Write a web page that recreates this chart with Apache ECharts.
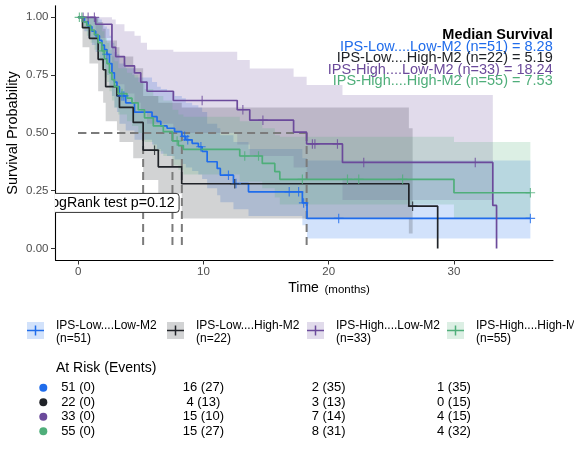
<!DOCTYPE html>
<html>
<head>
<meta charset="utf-8">
<script src="https://cdn.jsdelivr.net/npm/echarts@6/dist/echarts.min.js"></script>
<style>
html, body { margin: 0; padding: 0; background: #fff; }
#km { width: 574px; height: 455px; }
</style>
</head>
<body>
<div id="km"></div>
<script>
var groupNames = ['IPS-Low....Low-M2', 'IPS-Low....High-M2', 'IPS-High....Low-M2', 'IPS-High....High-M2'];
var groupN = [51, 22, 33, 55];
var medians = [8.28, 5.19, 18.24, 7.53];
var colors = ['#1F6CEB', '#202328', '#6B4A9B', '#4FAE7A'];
var pvalText = 'logRank test p=0.12';

var xTicks = [0, 10, 20, 30];
var yTicks = [0, 0.25, 0.5, 0.75, 1];
var yTickLabels = ['0.00', '0.25', '0.50', '0.75', '1.00'];

// step curves: start time of each step, survival on it, confidence band on it
var blueT  = [0, 0.5, 0.8, 1.1, 1.4, 1.7, 1.9, 2.1, 2.3, 2.5, 2.7, 2.9, 3.1, 3.3, 3.8, 4.5, 5.9, 6.3, 6.6, 7.1, 7.7, 8.28, 8.6, 9.1, 9.6, 9.9, 10.3, 11.1, 11.35, 12.4, 13.6, 17.9, 18.27];
var blueS  = [1, .98, .96, .94, .92, .90, .88, .86, .84, .80, .76, .72, .70, .66, .63, .59, .57, .55, .53, .52, .505, .485, .47, .455, .44, .42, .375, .346, .317, .281, .245, .197, .13];
var blueLo = [1, .94, .91, .88, .85, .82, .80, .77, .75, .70, .66, .61, .59, .54, .51, .47, .45, .43, .41, .40, .385, .365, .35, .335, .32, .30, .26, .23, .20, .17, .14, .10, .043];
var blueHi = [1, 1, 1, 1, 1, .99, .97, .96, .95, .92, .89, .85, .84, .80, .78, .74, .72, .70, .69, .68, .66, .65, .63, .62, .61, .59, .54, .52, .49, .46, .43, .39, .38];
var blueCens = [2.3, 3.5, 3.65, 8.5, 8.75, 9.8, 12.0, 12.6, 16.85, 17.6, 18.0, 20.8, 36.1];

var blackT  = [0, 0.35, 0.9, 1.6, 2.0, 2.2, 3.1, 3.3, 4.4, 5.19, 6.4, 8.27, 26.4, 28.7];
var blackS  = [1, .955, .909, .818, .773, .70, .66, .61, .545, .425, .353, .28, .183, 0];
var blackLo = [1, .87, .80, .68, .63, .55, .51, .46, .39, .296, .238, .13, .065];
var blackHi = [1, 1, 1, .98, .95, .90, .87, .83, .78, .66, .63, .61, .52];
var blackCens = [6.1, 12.5, 26.7];

var purpleT  = [0, 1.4, 2.7, 3.0, 3.7, 4.5, 5.0, 5.5, 7.6, 12.7, 13.7, 17.2, 18.24, 21.1, 33.1, 33.4];
var purpleS  = [1, .97, .87, .83, .79, .76, .72, .68, .64, .60, .555, .503, .452, .372, .186, 0];
var purpleLo = [1, .91, .76, .71, .67, .63, .59, .54, .50, .45, .40, .35, .30, .21];
var purpleHi = [1, 1, .99, .97, .94, .92, .89, .86, .851, .815, .779, .743, .707, .664];
var purpleCens = [0.4, 0.8, 1.3, 9.9, 13.15, 14.75, 18.7, 18.9, 20.7, 22.8, 31.7];

var greenT  = [0, 0.4, 0.7, 1.0, 1.3, 1.6, 1.9, 2.1, 2.3, 2.5, 2.7, 2.9, 3.2, 3.9, 4.3, 4.8, 5.3, 6.0, 6.8, 7.53, 8.0, 8.4, 12.9, 14.7, 15.7, 16.1, 30.0];
var greenS  = [1, .98, .965, .945, .925, .89, .855, .82, .80, .76, .73, .70, .67, .65, .63, .60, .565, .53, .505, .465, .445, .429, .40, .368, .332, .299, .241];
var greenLo = [1, .95, .92, .89, .86, .82, .78, .74, .72, .68, .64, .61, .58, .55, .53, .50, .46, .42, .40, .36, .34, .32, .29, .26, .22, .19, .13];
var greenHi = [1, 1, 1, 1, .99, .97, .94, .91, .89, .86, .83, .81, .78, .76, .75, .72, .69, .66, .64, .60, .58, .57, .55, .52, .49, .483, .461];
var greenCens = [0.1, 0.3, 2.0, 3.5, 7.9, 13.3, 14.4, 17.9, 21.5, 22.4, 25.9, 36.1];

// number at risk (events) table
var riskTimes = [0, 10, 20, 30];
var blueRisk = [51, 16, 2, 1],   blueEvents = [0, 27, 35, 35];
var blackRisk = [22, 4, 3, 0],   blackEvents = [0, 13, 13, 15];
var purpleRisk = [33, 15, 7, 4], purpleEvents = [0, 10, 14, 15];
var greenRisk = [55, 15, 8, 4],  greenEvents = [0, 27, 31, 32];

var groups = [
  { T: blueT, S: blueS, lo: blueLo, hi: blueHi, cens: blueCens, bandEnd: 36.1, lineEnd: 36.1, risk: blueRisk, ev: blueEvents },
  { T: blackT, S: blackS, lo: blackLo, hi: blackHi, cens: blackCens, bandEnd: 26.7, lineEnd: null, risk: blackRisk, ev: blackEvents },
  { T: purpleT, S: purpleS, lo: purpleLo, hi: purpleHi, cens: purpleCens, bandEnd: 33.1, lineEnd: null, risk: purpleRisk, ev: purpleEvents },
  { T: greenT, S: greenS, lo: greenLo, hi: greenHi, cens: greenCens, bandEnd: 36.1, lineEnd: 36.1, risk: greenRisk, ev: greenEvents }
];

var FONT = '"Liberation Sans", Arial, Helvetica, sans-serif';

function rgba(hex, a) {
  var n = parseInt(hex.slice(1), 16);
  return 'rgba(' + (n >> 16 & 255) + ',' + (n >> 8 & 255) + ',' + (n & 255) + ',' + a + ')';
}

function survAt(g, t) {
  var s = g.S[0];
  for (var i = 0; i < g.T.length; i++) { if (g.T[i] <= t) s = g.S[i]; }
  return s;
}

var series = [];

// confidence bands
groups.forEach(function (g, k) {
  series.push({
    type: 'custom', silent: true, z: 1,
    data: [[g.T[0], g.lo[0]]],
    renderItem: function (params, api) {
      var top = [], low = [];
      for (var i = 0; i < g.lo.length; i++) {
        var t1 = i + 1 < g.lo.length ? g.T[i + 1] : g.bandEnd;
        top.push(api.coord([g.T[i], g.hi[i]]), api.coord([t1, g.hi[i]]));
        low.push(api.coord([g.T[i], g.lo[i]]), api.coord([t1, g.lo[i]]));
      }
      return {
        type: 'polygon',
        shape: { points: top.concat(low.reverse()) },
        style: { fill: rgba(colors[k], 0.2) }
      };
    }
  });
});

// median lines
series.push({
  type: 'custom', silent: true, z: 2,
  data: medians.map(function (m) { return [m, 0.5]; }),
  renderItem: function (params, api) {
    var m = api.value(0);
    var o = api.coord([0, 0.5]), p = api.coord([m, 0.5]), b = api.coord([m, 0]);
    var st = { stroke: '#7b7b7b', lineWidth: 2, lineDash: [8, 5] };
    return {
      type: 'group',
      children: [
        { type: 'line', shape: { x1: o[0], y1: o[1], x2: p[0], y2: p[1] }, style: st },
        { type: 'line', shape: { x1: p[0], y1: p[1], x2: b[0], y2: b[1] }, style: st }
      ]
    };
  }
});

// survival curves and censor marks
groups.forEach(function (g, k) {
  var pts = g.T.map(function (t, i) { return [t, g.S[i]]; });
  if (g.lineEnd != null) pts.push([g.lineEnd, g.S[g.S.length - 1]]);
  series.push({
    type: 'line', step: 'end', data: pts, symbol: 'none', z: 3, silent: true,
    lineStyle: { color: colors[k], width: 1.7 }
  });
  series.push({
    type: 'scatter', z: 4, silent: true,
    symbol: 'path://M4.4,0H5.6V10H4.4ZM0,4.4H10V5.6H0Z', symbolSize: 9.5,
    itemStyle: { color: colors[k] },
    data: g.cens.map(function (t) { return [t, survAt(g, t)]; })
  });
});

// p-value label, clipped to the plot like the original
series.push({
  type: 'custom', silent: true, z: 6, clip: true,
  data: [[8.06, 0.197]],
  renderItem: function (params, api) {
    var p = api.coord([api.value(0), api.value(1)]);
    return {
      type: 'group',
      children: [
        { type: 'rect', shape: { x: p[0] - 137, y: p[1] - 9.5, width: 137, height: 19, r: 3 },
          style: { fill: '#fff', stroke: '#333', lineWidth: 1 } },
        { type: 'text', style: { text: pvalText, x: p[0] - 4.5, y: p[1], align: 'right', verticalAlign: 'middle',
          fill: '#000', font: '14.2px ' + FONT } }
      ]
    };
  }
});

var chart = echarts.init(document.getElementById('km'));
chart.setOption({
  animation: false,
  backgroundColor: '#fff',
  grid: { left: 55.5, right: 21, top: 5.75, bottom: 195, containLabel: false },
  xAxis: {
    type: 'value', min: -1.805, max: 37.905,
    axisLine: { onZero: false, lineStyle: { color: '#000', width: 1.1 } },
    axisTick: { customValues: xTicks, length: 4.5, lineStyle: { color: '#333' } },
    axisLabel: { customValues: xTicks, margin: 6, color: '#4d4d4d', fontSize: 11.5, fontFamily: FONT },
    splitLine: { show: false }
  },
  yAxis: {
    type: 'value', min: -0.05, max: 1.05,
    axisLine: { show: true, onZero: false, lineStyle: { color: '#000', width: 1.1 } },
    axisTick: { show: true, customValues: yTicks, length: 4.5, lineStyle: { color: '#333' } },
    axisLabel: { customValues: yTicks, margin: 7, color: '#4d4d4d', fontSize: 11.5, fontFamily: FONT,
      formatter: function (v) { return yTickLabels[yTicks.indexOf(v)]; } },
    splitLine: { show: false }
  },
  series: series
});

var gr = [];
// axis titles
gr.push({ type: 'text', x: 13, y: 133, rotation: Math.PI / 2,
  style: { text: 'Survival Probability', align: 'center', verticalAlign: 'middle', fill: '#000', font: '14.5px ' + FONT } });
gr.push({ type: 'text', x: 288.3, y: 288.5,
  style: { text: 'Time', align: 'left', verticalAlign: 'middle', fill: '#000', font: '14px ' + FONT } });
gr.push({ type: 'text', x: 324.5, y: 289.5,
  style: { text: '(months)', align: 'left', verticalAlign: 'middle', fill: '#000', font: '11.5px ' + FONT } });

// median survival legend
gr.push({ type: 'text', x: 552.7, y: 35, z: 10,
  style: { text: 'Median Survival', align: 'right', verticalAlign: 'middle', fill: '#000', font: 'bold 14.5px ' + FONT } });
var medY = [46.7, 58.3, 69.5, 80.5];
groups.forEach(function (g, k) {
  gr.push({ type: 'text', x: 552.7, y: medY[k], z: 10,
    style: { text: groupNames[k] + ' (n=' + groupN[k] + ') = ' + medians[k].toFixed(2),
      align: 'right', verticalAlign: 'middle', fill: colors[k], font: '14.5px ' + FONT } });
});

// bottom legend
groups.forEach(function (g, k) {
  var kx = 27 + 140 * k;
  gr.push({ type: 'rect', shape: { x: kx, y: 322, width: 17, height: 17 }, style: { fill: rgba(colors[k], 0.2) } });
  gr.push({ type: 'line', shape: { x1: kx, y1: 330.5, x2: kx + 17, y2: 330.5 }, style: { stroke: colors[k], lineWidth: 1.5 } });
  gr.push({ type: 'line', shape: { x1: kx + 8.5, y1: 325.5, x2: kx + 8.5, y2: 335.5 }, style: { stroke: colors[k], lineWidth: 1.5 } });
  gr.push({ type: 'text', x: kx + 29, y: 326, style: { text: groupNames[k], align: 'left', verticalAlign: 'middle', fill: '#000', font: '12px ' + FONT } });
  gr.push({ type: 'text', x: kx + 29, y: 339, style: { text: '(n=' + groupN[k] + ')', align: 'left', verticalAlign: 'middle', fill: '#000', font: '12px ' + FONT } });
});

// at risk table
gr.push({ type: 'text', x: 56, y: 367.7,
  style: { text: 'At Risk (Events)', align: 'left', verticalAlign: 'middle', fill: '#000', font: '14px ' + FONT } });
var rowY = [387.7, 402.2, 416.7, 431.2];
var colX = riskTimes.map(function (t) { return chart.convertToPixel({ xAxisIndex: 0 }, t); });
groups.forEach(function (g, k) {
  gr.push({ type: 'circle', shape: { cx: 43.3, cy: rowY[k], r: 4 }, style: { fill: colors[k] } });
  riskTimes.forEach(function (t, j) {
    gr.push({ type: 'text', x: colX[j], y: rowY[k],
      style: { text: g.risk[j] + ' (' + g.ev[j] + ')', align: 'center', verticalAlign: 'middle', fill: '#000', font: '13px ' + FONT } });
  });
});

chart.setOption({ graphic: { elements: gr } });
</script>
</body>
</html>
